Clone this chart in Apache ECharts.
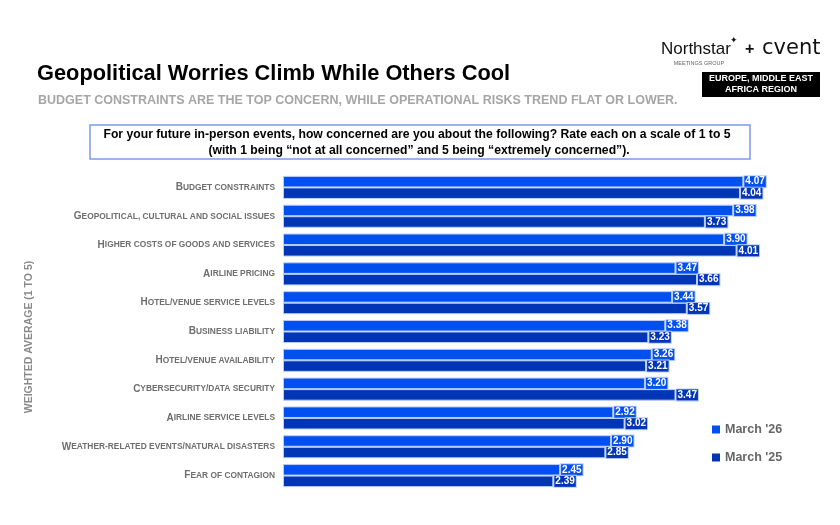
<!DOCTYPE html>
<html>
<head>
<meta charset="utf-8">
<script src="https://cdn.jsdelivr.net/npm/echarts@6/dist/echarts.min.js"></script>
<style>html,body{margin:0;padding:0;background:#fff}#c{width:840px;height:525px}</style>
</head>
<body>
<div id="c"></div>
<script>
const categories = [
  'Budget constraints',
  'Geopolitical, cultural and social issues',
  'Higher costs of goods and services',
  'Airline pricing',
  'Hotel/venue service levels',
  'Business liability',
  'Hotel/venue availability',
  'Cybersecurity/data security',
  'Airline service levels',
  'Weather-related events/natural disasters',
  'Fear of contagion'
];
const march26 = [4.07, 3.98, 3.90, 3.47, 3.44, 3.38, 3.26, 3.20, 2.92, 2.90, 2.45];
const march25 = [4.04, 3.73, 4.01, 3.66, 3.57, 3.23, 3.21, 3.47, 3.02, 2.85, 2.39];
const seriesNames = ["March '26", "March '25"];

const FONT = 'Arial, "Liberation Sans", sans-serif';
const C26 = '#0050f0';
const C25 = '#0036b5';

function mkLabel(color) {
  return {
    show: true, position: 'right', distance: 1,
    formatter: p => p.value.toFixed(2),
    color: '#fff', fontSize: 10, fontWeight: 'bold', fontFamily: FONT,
    backgroundColor: color, borderColor: '#b9ccff', borderWidth: 1,
    padding: [1, 1, 0, 1]
  };
}

const chart = echarts.init(document.getElementById('c'));
chart.setOption({
  animation: false,
  grid: { left: 283, top: 173, right: 48, bottom: 35, containLabel: false },
  xAxis: { type: 'value', min: 0, max: 4.5, show: false, splitLine: { show: false } },
  yAxis: {
    type: 'category', data: categories, inverse: true,
    axisLine: { show: false }, axisTick: { show: false },
    axisLabel: {
      margin: 8,
      formatter: v => '{a|' + v.charAt(0).toUpperCase() + '}{b|' + v.slice(1).toUpperCase() + '}',
      rich: {
        a: { fontSize: 10, fontWeight: 'bold', color: '#6e6e6e', fontFamily: FONT },
        b: { fontSize: 8.4, fontWeight: 'bold', color: '#6e6e6e', fontFamily: FONT }
      }
    }
  },
  legend: {
    orient: 'vertical', left: 707, top: 418, itemGap: 15,
    itemWidth: 8, itemHeight: 8, icon: 'rect',
    itemStyle: { borderWidth: 0 },
    textStyle: { fontSize: 12.5, fontWeight: 'bold', color: '#666', fontFamily: FONT },
    data: seriesNames
  },
  series: [
    { name: seriesNames[0], type: 'bar', data: march26, barGap: '0%', barCategoryGap: '20%',
      itemStyle: { color: C26, borderColor: '#b9ccff', borderWidth: 1 }, label: mkLabel(C26) },
    { name: seriesNames[1], type: 'bar', data: march25,
      itemStyle: { color: C25, borderColor: '#b9ccff', borderWidth: 1 }, label: mkLabel(C25) }
  ],
  graphic: [
    { type: 'text', x: 37, y: 74, style: { text: 'Geopolitical Worries Climb While Others Cool', font: 'bold 21.8px ' + FONT, fill: '#000', textVerticalAlign: 'middle' } },
    { type: 'text', x: 38, y: 101, style: { text: 'BUDGET CONSTRAINTS ARE THE TOP CONCERN, WHILE OPERATIONAL RISKS TREND FLAT OR LOWER.', font: 'bold 12.5px ' + FONT, fill: '#a6a6a6', textVerticalAlign: 'middle' } },
    { type: 'rect', shape: { x: 90, y: 125, width: 660, height: 34 }, style: { fill: '#fff', stroke: '#7c9af0', lineWidth: 1.5 } },
    { type: 'text', x: 417, y: 135, style: { text: 'For your future in-person events, how concerned are you about the following? Rate each on a scale of 1 to 5', font: 'bold 12.2px ' + FONT, fill: '#000', textAlign: 'center', textVerticalAlign: 'middle' } },
    { type: 'text', x: 419, y: 151, style: { text: '(with 1 being \u201cnot at all concerned\u201d and 5 being \u201cextremely concerned\u201d).', font: 'bold 12.2px ' + FONT, fill: '#000', textAlign: 'center', textVerticalAlign: 'middle' } },
    { type: 'text', x: 29, y: 337, rotation: Math.PI / 2, style: { text: 'WEIGHTED AVERAGE (1 TO 5)', font: 'bold 10.5px ' + FONT, fill: '#8a8a8a', textAlign: 'center', textVerticalAlign: 'middle' } },
    // logo
    { type: 'text', x: 661, y: 49, style: { text: 'Northstar', font: '17px ' + FONT, fill: '#111', textVerticalAlign: 'middle' } },
    { type: 'text', x: 734, y: 41, style: { text: '\u2726', font: '9px ' + FONT, fill: '#111', textAlign: 'center', textVerticalAlign: 'middle' } },
    { type: 'text', x: 745, y: 50, style: { text: '+', font: 'bold 16px ' + FONT, fill: '#111', textVerticalAlign: 'middle' } },
    { type: 'text', x: 762, y: 49, style: { text: 'cvent', font: '21px "DejaVu Sans", sans-serif', fill: '#111', textVerticalAlign: 'middle' } },
    { type: 'text', x: 699, y: 63, style: { text: 'MEETINGS GROUP', font: '5.5px ' + FONT, fill: '#666', textAlign: 'center', textVerticalAlign: 'middle' } },
    { type: 'rect', shape: { x: 702, y: 72, width: 118, height: 25 }, style: { fill: '#000' } },
    { type: 'text', x: 761, y: 79, style: { text: 'EUROPE, MIDDLE EAST', font: 'bold 9px ' + FONT, fill: '#fff', textAlign: 'center', textVerticalAlign: 'middle' } },
    { type: 'text', x: 761, y: 90, style: { text: 'AFRICA REGION', font: 'bold 9px ' + FONT, fill: '#fff', textAlign: 'center', textVerticalAlign: 'middle' } }
  ]
});
</script>
</body>
</html>
